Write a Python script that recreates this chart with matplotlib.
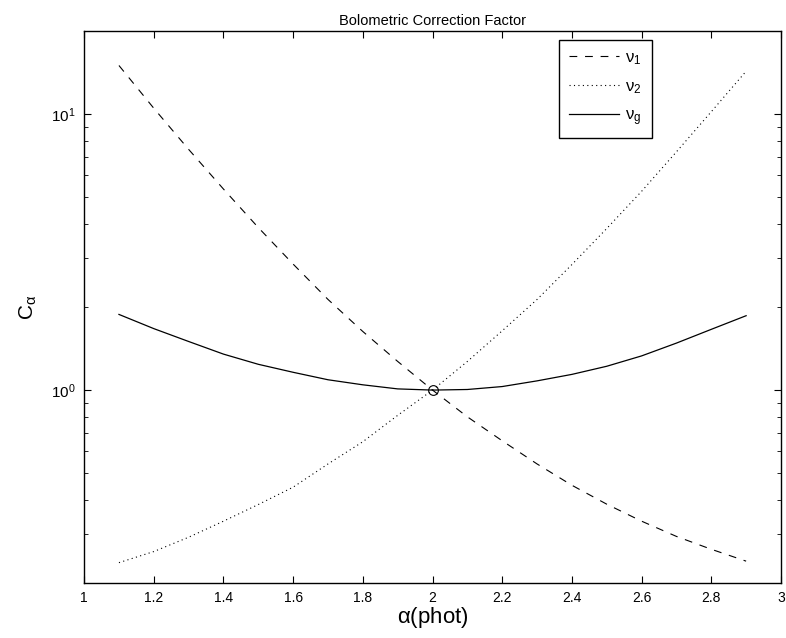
import numpy as np
import matplotlib
matplotlib.use("Agg")
import matplotlib.pyplot as plt

plt.rcParams['font.family'] = ['Liberation Sans', 'DejaVu Sans']
plt.rcParams['mathtext.fontset'] = 'custom'
plt.rcParams['mathtext.rm'] = 'Liberation Sans'
plt.rcParams['mathtext.it'] = 'Liberation Sans'

# values (log y axis)
alpha = [1.1, 1.2, 1.3, 1.4, 1.5, 1.6, 1.7, 1.8, 1.9, 2.0,
         2.1, 2.2, 2.3, 2.4, 2.5, 2.6, 2.7, 2.8, 2.9]
c_nu1 = [15.0, 10.5, 7.45, 5.35, 3.88, 2.86, 2.13, 1.63, 1.27, 1.0,
         0.80, 0.655, 0.54, 0.452, 0.386, 0.335, 0.295, 0.265, 0.24]
c_nu2 = [0.237, 0.26, 0.293, 0.335, 0.385, 0.445, 0.54, 0.65, 0.81, 1.0,
         1.27, 1.64, 2.13, 2.85, 3.85, 5.25, 7.3, 10.2, 14.3]
c_nug = [1.88, 1.67, 1.50, 1.35, 1.24, 1.16, 1.09, 1.045, 1.01, 1.0,
         1.005, 1.03, 1.08, 1.14, 1.22, 1.33, 1.48, 1.66, 1.86]
ref_point = ([2.0], [1.0])
labels = [r'$\mathrm{\nu}_1$', r'$\mathrm{\nu}_2$', r'$\mathrm{\nu}_g$']

fig = plt.figure(figsize=(7.86, 6.38), dpi=100)
ax = fig.add_axes([0.107, 0.0862, 0.8866, 0.8652])

ax.plot(alpha, c_nu1, color='k', lw=0.8, dashes=(7, 7), label=labels[0])
ax.plot(alpha, c_nu2, color='k', lw=0.8, dashes=(1, 3), label=labels[1])
ax.plot(alpha, c_nug, color='k', lw=0.9, label=labels[2])
ax.plot(*ref_point, 'o', mfc='none', mec='k', ms=7, mew=0.8)

ax.set_yscale('log')
ax.set_xlim(1, 3)
ax.set_ylim(0.2, 20)
ax.set_xticks(np.arange(1, 3.01, 0.2))
ax.set_xticklabels(['1', '1.2', '1.4', '1.6', '1.8', '2', '2.2', '2.4', '2.6', '2.8', '3'])
ax.tick_params(which='both', direction='in', top=True, right=True, labelsize=10)
ax.tick_params(axis='y', which='major', labelsize=11)
ax.tick_params(which='major', length=5)
ax.tick_params(which='minor', length=3)
ax.tick_params(axis='x', pad=6)
ax.tick_params(axis='y', pad=6)
for sp in ax.spines.values():
    sp.set_linewidth(1.0)

ax.set_title('Bolometric Correction Factor', fontsize=10.5, pad=4)
ax.set_xlabel(r'$\mathrm{\alpha}$(phot)', fontsize=16, labelpad=0)
ax.set_ylabel(r'C$_\mathrm{\alpha}$', fontsize=15, labelpad=9)

leg = ax.legend(loc='upper left', bbox_to_anchor=(0.681, 0.984), borderaxespad=0,
                fontsize=12, handlelength=3.0, labelspacing=0.75, fancybox=False,
                edgecolor='k', framealpha=1, borderpad=0.6, handletextpad=0.4)
leg.get_frame().set_linewidth(1.0)

fig.savefig('out.png', dpi=100)
